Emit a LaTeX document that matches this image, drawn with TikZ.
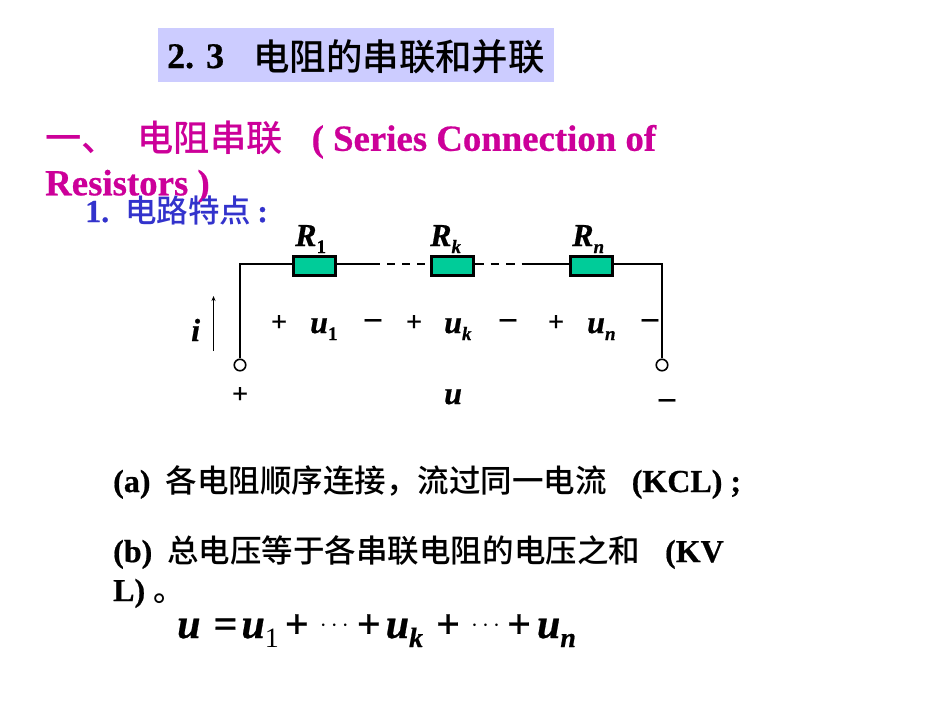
\documentclass[tikz,border=0pt]{standalone}
\usepackage{fontspec}
\setmainfont{Liberation Serif}[BoldFeatures={FakeBold=0.6},BoldItalicFeatures={FakeBold=0.6}]
\newfontfamily\cjk{Noto Sans CJK SC}[Scale=0.985,BoldFont={Noto Sans CJK SC Medium}]
\usetikzlibrary{positioning,arrows.meta}
\definecolor{titlebg}{RGB}{204,204,255}
\definecolor{headcol}{RGB}{204,0,153}
\definecolor{bluecol}{RGB}{51,51,204}
\definecolor{rescol}{RGB}{0,204,153}
\newcommand{\fs}[1]{\fontsize{#1}{#1}\selectfont}
\newcommand{\low}[1]{\raisebox{-7pt}{\fs{19}#1}}
\newcommand{\dotsrow}{\raisebox{7pt}{\fs{30}\mdseries\upshape $\cdots$}}
\tikzset{
	txt/.style={inner sep=0pt,anchor=base west,font=\bfseries},
	sym/.style={inner sep=0pt,anchor=base west,font=\fs{32}\bfseries\itshape},
	sgn/.style={inner sep=0pt,font=\fs{28}\bfseries},
	neg/.style={inner sep=0pt,font=\fs{32}\bfseries},
	res/.style={draw,line width=3.2pt,fill=rescol,minimum width=42pt,minimum height=19pt,inner sep=0pt},
	term/.style={circle,draw,line width=1.6pt,fill=white,minimum size=11.5pt,inner sep=0pt},
	wire/.style={line width=2pt}
}
\begin{document}
\begin{tikzpicture}[x=1pt,y=-1pt]
	\useasboundingbox (0,0) rectangle (950,713);

	\node[fill=titlebg,minimum width=396pt,minimum height=54pt,inner sep=0pt,text height=26pt,text depth=0pt,font=\fs{36}\bfseries] (title) at (356,55) {2. 3\hspace{21pt}\raisebox{-2pt}{\cjk\fs{37} 电阻的串联和并联}};
	\node[inner sep=0pt,anchor=north west,align=left,text=headcol,font=\fontsize{36.8}{44.5}\selectfont\bfseries] (head) at (45,121) {\raisebox{-1pt}{\cjk 一、\hspace{20pt}电阻串联}\hspace{29pt}( Series Connection of\\Resistors )};
	\node[txt,text=bluecol,font=\fs{32}\bfseries] (sub) at (85,222) {1.\hspace{16pt}{\cjk 电路特点}\hspace{6pt}:};

	\node[res] (r1) at (314.5,266) {};
	\node[res] (rk) at (452.5,266) {};
	\node[res] (rn) at (591.5,266) {};
	\node[term] (tl) at (240,365) {};
	\node[term] (tr) at (662,365) {};
	\coordinate (cl) at (240,264);
	\coordinate (cr) at (662,264);
	\coordinate (d1) at (380,264);
	\coordinate (d2) at (530,264);
	\coordinate (a1) at (213.5,351);
	\coordinate (a2) at (213.5,296);

	\draw[wire] (tl) -- (cl) -- (r1.west |- cl);
	\draw[wire] (r1.east |- cl) -- (d1);
	\draw[wire,dash pattern=on 8pt off 7pt,dash phase=8pt] (d1) -- (rk.west |- cl);
	\draw[wire,dash pattern=on 8.5pt off 7pt] (rk.east |- cl) -- (d2);
	\draw[wire] (d2) -- (rn.west |- cl);
	\draw[wire] (rn.east |- cl) -- (cr) -- (tr);
	\draw[line width=1.3pt,-{Stealth[length=5pt,width=4pt]}] (a1) -- (a2);

	\node[sym] (lr1) at (295,246) {R\low{\upshape 1}};
	\node[sym] (lrk) at (430,246) {R\low{k}};
	\node[sym] (lrn) at (572,246) {R\low{n}};
	\node[sym] (li) at (191,341) {i};
	\node[sym] (lu1) at (310,333) {u\low{\upshape 1}};
	\node[sym] (luk) at (444,333) {u\low{k}};
	\node[sym] (lun) at (587,333) {u\low{n}};
	\node[sym] (lu) at (444,404) {u};

	\node[sgn] (p1) at (279,323) {+};
	\node[neg] (m1) at (373,323.5) {--};
	\node[sgn] (p2) at (414,323) {+};
	\node[neg] (m2) at (508,323.5) {--};
	\node[sgn] (p3) at (556,323) {+};
	\node[neg] (m3) at (650,323.5) {--};
	\node[sgn] (p4) at (240,395) {+};
	\node[neg] (m4) at (667,403.5) {--};

	\node[txt,font=\fs{32}\bfseries] (ta) at (113,492) {(a)\hspace{15pt}{\cjk 各电阻顺序连接，流过同一电流}\hspace{25pt}(KCL) ;};
	\node[inner sep=0pt,anchor=north west,align=left,font=\fontsize{32}{39}\selectfont\bfseries] (tb) at (113,535) {(b)\hspace{15pt}{\cjk 总电压等于各串联电阻的电压之和}\hspace{25pt}(KV\\L) {\cjk 。}};

	\node[inner sep=0pt,anchor=base west,font=\fs{42}\bfseries\itshape] (eq) at (177,638) {u\hspace{13pt}{\upshape =}\hspace{4pt}u\raisebox{-9pt}{\fs{28}\mdseries\upshape 1}\hspace{6pt}{\upshape +}\hspace{11pt}\dotsrow\hspace{8pt}{\upshape +}\hspace{5pt}u\raisebox{-9pt}{\fs{28}k}\hspace{13pt}{\upshape +}\hspace{11pt}\dotsrow\hspace{7pt}{\upshape +}\hspace{6pt}u\raisebox{-9pt}{\fs{28}n}};
\end{tikzpicture}
\end{document}
